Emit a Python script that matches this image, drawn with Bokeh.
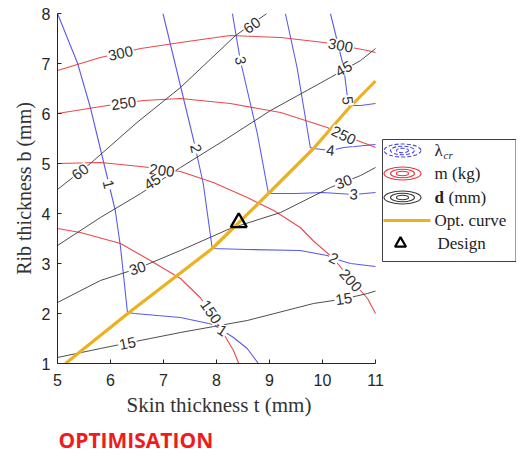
import math
from bokeh.plotting import figure
from bokeh.models import Range1d, Title, FixedTicker, ColumnDataSource
from bokeh.core.properties import value
from bokeh.embed import file_html
from bokeh.resources import INLINE

# ---------------- data ----------------
x_ticks = [5, 6, 7, 8, 9, 10, 11]
y_ticks = [1, 2, 3, 4, 5, 6, 7, 8]

# buckling factor lambda_cr contours
lam_levels = ["1", "2", "3", "4", "5"]
lam_t = [
    [5.0, 5.38, 5.62, 5.94, 6.09, 6.19, 6.32, 6.45, 7.32, 7.94, 8.32, 8.58, 8.79],
    [6.99, 7.3, 7.57, 7.75, 7.92, 8.58, 9.58, 10.09, 10.21, 10.53, 11.0],
    [8.30, 8.45, 8.77, 8.98, 9.5, 10.0, 10.59, 11.0],
    [9.30, 9.52, 9.77, 9.83, 10.15, 10.4, 11.0],
    [10.15, 10.40, 10.49, 10.72, 11.0],
]
lam_b = [
    [8.0, 7.0, 6.12, 4.72, 4.06, 3.32, 2.02, 2.0, 1.92, 1.78, 1.52, 1.3, 1.0],
    [8.0, 6.64, 5.46, 4.6, 3.30, 3.28, 3.26, 3.16, 3.1, 3.0, 2.94],
    [8.0, 7.06, 5.6, 4.4, 4.4, 4.42, 4.38, 4.42],
    [8.0, 6.92, 5.32, 5.3, 5.26, 5.32, 5.38],
    [8.0, 6.92, 6.16, 6.16, 6.2],
]
lam_lbl = ["1", "1", "2", "2", "3", "3", "4", "5"]
lam_lbl_t = [5.96, 8.11, 7.61, 10.21, 8.45, 10.59, 10.15, 10.47]
lam_lbl_b = [4.58, 1.66, 5.3, 3.1, 7.06, 4.38, 5.26, 6.26]

# mass contours m (kg)
mass_levels = ["150", "200", "250", "300"]
mass_t = [
    [5.0, 5.43, 6.19, 6.75, 7.32, 7.70, 7.89, 8.13, 8.32, 8.42],
    [5.0, 5.81, 6.57, 7.32, 7.94, 8.58, 9.08, 9.58, 9.83, 10.21, 10.53, 10.85, 11.0],
    [5.0, 5.94, 6.62, 7.32, 8.26, 9.21, 10.09, 10.4, 10.91, 11.0],
    [5.0, 5.81, 6.57, 7.32, 8.26, 9.21, 10.03, 10.34, 10.85, 11.0],
]
mass_b = [
    [3.7, 3.62, 3.4, 3.06, 2.7, 2.31, 2.02, 1.6, 1.26, 1.0],
    [5.0, 5.02, 4.94, 4.84, 4.62, 4.32, 4.06, 3.72, 3.45, 3.1, 2.68, 2.3, 2.0],
    [6.0, 6.16, 6.26, 6.3, 6.2, 6.02, 5.72, 5.56, 5.36, 5.32],
    [6.86, 7.12, 7.3, 7.42, 7.56, 7.52, 7.42, 7.36, 7.26, 7.22],
]
mass_lbl = ["150", "200", "200", "250", "250", "300", "300"]
mass_lbl_t = [7.89, 6.97, 10.53, 6.25, 10.40, 6.19, 10.34]
mass_lbl_b = [2.03, 4.86, 2.66, 6.2, 5.56, 7.2, 7.36]

# displacement contours d (mm)
defl_levels = ["15", "30", "45", "60"]
defl_t = [
    [5.0, 5.81, 6.75, 7.32, 8.58, 9.83, 10.40, 10.85, 11.0],
    [5.0, 5.81, 6.51, 7.32, 8.26, 9.21, 10.15, 10.72, 11.0],
    [5.0, 5.81, 6.57, 7.32, 8.2, 9.02, 10.15, 10.72, 11.0],
    [5.0, 5.62, 6.5, 7.32, 8.36, 8.95],
]
defl_b = [
    [1.12, 1.3, 1.5, 1.62, 1.86, 2.2, 2.29, 2.4, 2.45],
    [2.22, 2.66, 2.9, 3.26, 3.7, 4.02, 4.52, 4.76, 4.92],
    [3.36, 3.92, 4.4, 4.92, 5.5, 6.06, 6.72, 7.06, 7.3],
    [4.48, 5.0, 5.82, 6.52, 7.56, 8.0],
]
defl_lbl = ["15", "15", "30", "30", "45", "45", "60", "60"]
defl_lbl_t = [6.32, 10.40, 6.51, 10.40, 6.79, 10.40, 5.43, 8.67]
defl_lbl_b = [1.4, 2.29, 2.9, 4.63, 4.63, 6.89, 4.83, 7.76]

# optimal curve and chosen design
opt_t = [5.15, 6.35, 7.92, 8.98, 9.83, 10.49, 11.0]
opt_b = [1.0, 2.02, 3.30, 4.4, 5.3, 6.1, 6.65]
design_t = [8.42]
design_b = [3.82]

legend_labels = ["m (kg)", "Opt. curve", "Design"]

# ---------------- styling / layout ----------------
BLUE = "#4848e8"
RED = "#e8353a"
BLACK = "#3a3a3a"
GOLD = "#EDB120"
AX = "#262626"

XR, YR = (5, 11), (1, 8)
PLOT_W, PLOT_H = 318, 350          # pixel size of the t-b axes box
SX = PLOT_W / (XR[1] - XR[0])
SY = PLOT_H / (YR[1] - YR[0])
BL, BT, BB = 57, 13, 86            # borders left / top / bottom
FW = 516 - BL                       # frame also holds the legend on the right
XMAX = XR[0] + FW / SX


def px(x):   # horizontal page pixel -> data
    return XR[0] + (x - BL) / SX


def py(y):   # vertical page pixel -> data
    return YR[0] + (BT + PLOT_H - y) / SY


p = figure(frame_width=FW, frame_height=PLOT_H, x_range=Range1d(XR[0], XMAX),
           y_range=Range1d(*YR), min_border_left=BL, min_border_right=0,
           min_border_top=BT, min_border_bottom=BB,
           output_backend="svg", toolbar_location=None)
p.grid.visible = False
p.outline_line_color = None

p.xaxis.ticker = FixedTicker(ticks=x_ticks)
p.yaxis.ticker = FixedTicker(ticks=y_ticks)
p.xaxis.bounds = XR
for ax in (p.xaxis[0], p.yaxis[0]):
    ax.major_tick_in = 4
    ax.major_tick_out = 0
    ax.minor_tick_in = 0
    ax.minor_tick_out = 0
    ax.axis_line_color = AX
    ax.major_tick_line_color = AX
    ax.major_label_text_font = "Liberation Sans"
    ax.major_label_text_font_size = "16px"
    ax.major_label_text_color = AX
    ax.axis_label_text_font = "Liberation Serif"
    ax.axis_label_text_font_size = "20px"
    ax.axis_label_text_font_style = "normal"
    ax.axis_label_text_color = "#333333"
p.yaxis.axis_label = "Rib thickness b (mm)"
p.xaxis.major_label_standoff = 10
p.yaxis.major_label_standoff = 7
p.yaxis.axis_label_standoff = 4


def label_angles(lines_t, lines_b, lt, lb):
    out = []
    for x, y in zip(lt, lb):
        best = None
        for ts, bs in zip(lines_t, lines_b):
            for i in range(len(ts) - 1):
                x0, y0 = ts[i] * SX, bs[i] * SY
                x1, y1 = ts[i + 1] * SX, bs[i + 1] * SY
                qx, qy = x * SX, y * SY
                dx, dy = x1 - x0, y1 - y0
                L2 = dx * dx + dy * dy or 1e-9
                u = max(0.0, min(1.0, ((qx - x0) * dx + (qy - y0) * dy) / L2))
                d = math.hypot(x0 + u * dx - qx, y0 + u * dy - qy)
                if best is None or d < best[0]:
                    best = (d, math.atan2(dy, dx))
        a = best[1]
        if a > math.pi / 2:
            a -= math.pi
        if a <= -math.pi / 2:
            a += math.pi
        out.append(a)
    return out


# contour lines
p.multi_line(xs=lam_t, ys=lam_b, line_color=BLUE, line_width=1.1, line_alpha=0.9)
p.multi_line(xs=mass_t, ys=mass_b, line_color=RED, line_width=1.1, line_alpha=0.9)
p.multi_line(xs=defl_t, ys=defl_b, line_color=BLACK, line_width=1.0, line_alpha=0.9)
p.line(opt_t, opt_b, line_color=GOLD, line_width=3.2)

# contour labels
for txt, lt, lb, lines_t, lines_b in [
    (lam_lbl, lam_lbl_t, lam_lbl_b, lam_t, lam_b),
    (mass_lbl, mass_lbl_t, mass_lbl_b, mass_t, mass_b),
    (defl_lbl, defl_lbl_t, defl_lbl_b, defl_t, defl_b),
]:
    src = ColumnDataSource(dict(x=lt, y=lb, text=txt,
                                angle=label_angles(lines_t, lines_b, lt, lb)))
    p.text(x="x", y="y", text="text", angle="angle", source=src,
           text_font=value("Liberation Sans"), text_font_size="15px",
           text_color="#303030", text_align="center", text_baseline="middle",
           background_fill_color="white", padding=1)

p.scatter(design_t, design_b, marker="triangle", size=16, fill_color=None,
          line_color="black", line_width=2.4)

# ---------------- legend (drawn in the right part of the frame) ----------------
p.quad(left=[px(382)], right=[px(515.5)], bottom=[py(261)], top=[py(139)],
       fill_color="white", line_color="#404040", line_width=1)
rows = [150, 173, 197, 220, 243]
icon_x = px(402)
for r, col, dash in [(rows[0], BLUE, "4 2"), (rows[1], RED, "solid"), (rows[2], BLACK, "solid")]:
    for w, h in [(37, 13), (24, 8.5), (12, 4.5)]:
        p.ellipse(x=[icon_x], y=[py(r)], width=[w], height=[h], width_units="screen",
                  height_units="screen", fill_color=None, line_color=col,
                  line_width=1.1, line_dash=dash)
p.line([px(383), px(430)], [py(rows[3])] * 2, line_color=GOLD, line_width=3.2)
p.scatter([px(400)], [py(rows[4])], marker="triangle", size=11, fill_color=None,
          line_color="black", line_width=2.2)

serif = value("Liberation Serif")
tc = "#222222"
p.text(x=[px(434)], y=[py(rows[0])], text=["λ"], text_font=serif,
       text_font_size="17px", text_baseline="middle", text_color=tc)
p.text(x=[px(443)], y=[py(rows[0] + 4)], text=["cr"], text_font=serif, text_font_style="italic",
       text_font_size="11px", text_baseline="middle", text_color=tc)
p.text(x=[px(434)], y=[py(rows[2])], text=["d"], text_font=serif, text_font_style="bold",
       text_font_size="17px", text_baseline="middle", text_color=tc)
p.text(x=[px(448)], y=[py(rows[2])], text=["(mm)"], text_font=serif,
       text_font_size="17px", text_baseline="middle", text_color=tc)
p.text(x=[px(434), px(434), px(437)], y=[py(rows[1]), py(rows[3]), py(rows[4])],
       text=legend_labels, text_font=serif, text_font_size="17px",
       text_baseline="middle", text_color=tc)

# x-axis title centred under the t axis (the frame extends under the legend)
p.add_layout(Title(text="Skin thickness t (mm)", align="left", offset=69, standoff=4,
                   text_font="Liberation Serif", text_font_style="normal",
                   text_font_size="21px", text_color="#333333"), "below")
p.add_layout(Title(text="OPTIMISATION", align="left", offset=1, standoff=11,
                   text_font="Open Sans", text_font_style="bold", text_font_size="21px",
                   text_color="#ee1c1c"), "below")

open("out.html", "w").write(file_html(p, INLINE))
